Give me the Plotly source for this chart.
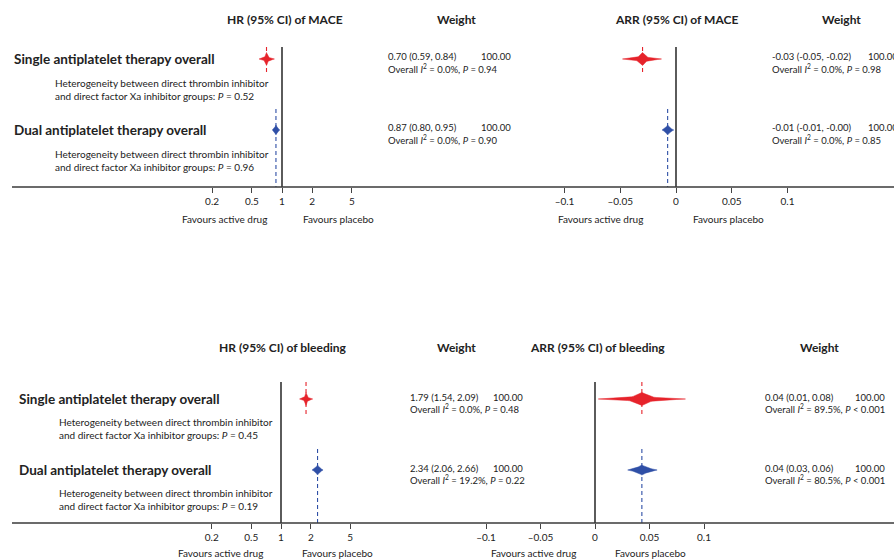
import numpy as np
import plotly.graph_objects as go

# ---------------- data ----------------
groups = ["Single antiplatelet therapy overall", "Dual antiplatelet therapy overall"]
group_colors = ["#e6232b", "#2f4fa6"]

het_p_mace = ["0.52", "0.96"]
het_p_bleed = ["0.45", "0.19"]

hr_mace_est = [0.70, 0.87]
hr_mace_lo = [0.59, 0.80]
hr_mace_hi = [0.84, 0.95]
hr_mace_txt = ["0.70 (0.59, 0.84)", "0.87 (0.80, 0.95)"]
hr_mace_i2 = ["0.0%", "0.0%"]
hr_mace_p = ["= 0.94", "= 0.90"]

arr_mace_est = [-0.030, -0.0075]
arr_mace_lo = [-0.048, -0.0125]
arr_mace_hi = [-0.013, -0.002]
arr_mace_txt = ["-0.03 (-0.05, -0.02)", "-0.01 (-0.01, -0.00)"]
arr_mace_i2 = ["0.0%", "0.0%"]
arr_mace_p = ["= 0.98", "= 0.85"]

hr_bleed_est = [1.79, 2.34]
hr_bleed_lo = [1.54, 2.06]
hr_bleed_hi = [2.09, 2.66]
hr_bleed_txt = ["1.79 (1.54, 2.09)", "2.34 (2.06, 2.66)"]
hr_bleed_i2 = ["0.0%", "19.2%"]
hr_bleed_p = ["= 0.48", "= 0.22"]

arr_bleed_est = [0.043, 0.043]
arr_bleed_lo = [0.003, 0.030]
arr_bleed_hi = [0.083, 0.057]
arr_bleed_txt = ["0.04 (0.01, 0.08)", "0.04 (0.03, 0.06)"]
arr_bleed_i2 = ["89.5%", "80.5%"]
arr_bleed_p = ["&lt; 0.001", "&lt; 0.001"]

weights = ["100.00", "100.00"]

hr_ticks = [0.2, 0.5, 1, 2, 5]
hr_ticktext = ["0.2", "0.5", "1", "2", "5"]
arr_ticks = [-0.1, -0.05, 0, 0.05, 0.1]
arr_ticktext = ["\u20130.1", "\u20130.05", "0", "0.05", "0.1"]

# ---------------- layout helpers ----------------
W, H = 894, 560
FONT = "Lato"
TXT = "#222222"


def px(x):
    return x / W


def py(y):
    return 1 - y / H


fig = go.Figure()
annotations = []
shapes = []


def ann(text, x, y, size, bold=False, xanchor="left", color=TXT):
    if bold:
        text = "<b>" + text + "</b>"
    annotations.append(dict(text=text, x=px(x), y=py(y), xref="paper", yref="paper",
                            xanchor=xanchor, yanchor="middle", showarrow=False,
                            font=dict(family=FONT, size=size, color=color), align="left"))


def diamond(xa, ya, est, lo, hi, row, h, color, k, log=False):
    # concave diamond through (lo,row),(est,row-h),(hi,row),(est,row+h)
    t = np.linspace(0, 1, 13)
    kk = 1 - (1 - k) * 4 * t * (1 - t)
    if log:
        e, l, u = np.log10(est), np.log10(lo), np.log10(hi)
    else:
        e, l, u = est, lo, hi
    xs, ys = [], []
    for (x0, y0, x1, y1) in [(l, row, e, row - h), (e, row - h, u, row),
                             (u, row, e, row + h), (e, row + h, l, row)]:
        ex = x0 + t * (x1 - x0)
        ey = y0 + t * (y1 - y0)
        xs += list(e + kk * (ex - e))
        ys += list(row + kk * (ey - row))
    if log:
        xs = list(10 ** np.array(xs))
    fig.add_trace(go.Scatter(x=xs, y=ys, xaxis=xa, yaxis=ya, mode="lines", fill="toself",
                             fillcolor=color, line=dict(color=color, width=0.5),
                             hoverinfo="skip", showlegend=False))


def dashed(xa, ya, x, y0, y1, color):
    fig.add_trace(go.Scatter(x=[x, x], y=[y0, y1], xaxis=xa, yaxis=ya, mode="lines",
                             line=dict(color=color, width=1.1, dash="4px,3px"),
                             hoverinfo="skip", showlegend=False))


# panel geometry (pixels)
TOP = dict(y_top=47, y_axis=187, rows=(59, 130))
BOT = dict(y_top=382, y_axis=523, rows=(399, 470))


def yrange(p):
    sp = p["rows"][1] - p["rows"][0]
    top = (p["y_top"] - p["rows"][0]) / sp
    bot = 1 + (p["y_axis"] - p["rows"][1]) / sp
    return [bot, top], [py(p["y_axis"]), py(p["y_top"])], sp


yr_t, yd_t, sp_t = yrange(TOP)
yr_b, yd_b, sp_b = yrange(BOT)

# ---------------- marks ----------------
panels = [
    ("x", "y", hr_mace_est, hr_mace_lo, hr_mace_hi, True, sp_t, TOP),
    ("x2", "y2", arr_mace_est, arr_mace_lo, arr_mace_hi, False, sp_t, TOP),
    ("x3", "y3", hr_bleed_est, hr_bleed_lo, hr_bleed_hi, True, sp_b, BOT),
    ("x4", "y4", arr_bleed_est, arr_bleed_lo, arr_bleed_hi, False, sp_b, BOT),
]
for xa, ya, est, lo, hi, lg, sp, p in panels:
    top = (p["y_top"] - p["rows"][0]) / sp
    bot = 1 + (p["y_axis"] - p["rows"][1]) / sp
    # reference line (null effect)
    shapes.append(dict(type="line", xref=xa, yref=ya + " domain", x0=1 if lg else 0,
                       x1=1 if lg else 0, y0=0, y1=1, line=dict(color="#333333", width=1.6)))
    for i in range(2):
        col = group_colors[i]
        if i == 0:
            dashed(xa, ya, est[i], top, 0 + 16 / sp, col)
        else:
            dashed(xa, ya, est[i], 1 - 21 / sp, bot, col)
    for i in range(2):
        h = (6.5 if i == 0 else 5.0) / sp
        diamond(xa, ya, est[i], lo[i], hi[i], i, h, group_colors[i],
                0.55 if i == 0 else 0.85, log=lg)

# full-width axis lines
for p in (TOP, BOT):
    shapes.append(dict(type="line", xref="paper", yref="paper", x0=px(12), x1=1,
                       y0=py(p["y_axis"]), y1=py(p["y_axis"]),
                       line=dict(color="#3a3a3a", width=1.6)))

# ---------------- axes ----------------
def log_axis(center_px, per_decade, d0, d1):
    return dict(type="log", domain=[px(d0), px(d1)],
                range=[(d0 - center_px) / per_decade, (d1 - center_px) / per_decade],
                tickvals=hr_ticks, ticktext=hr_ticktext)


def lin_axis(zero_px, per_unit, d0, d1):
    return dict(type="linear", domain=[px(d0), px(d1)],
                range=[(d0 - zero_px) / per_unit, (d1 - zero_px) / per_unit],
                tickvals=arr_ticks, ticktext=arr_ticktext)


common_x = dict(showgrid=False, zeroline=False, showline=False, ticks="outside",
                ticklen=5, tickwidth=1.2, tickcolor="#444444",
                tickfont=dict(family=FONT, size=10, color=TXT), fixedrange=True)
common_y = dict(showgrid=False, zeroline=False, showline=False, showticklabels=False,
                ticks="", fixedrange=True)

xa1 = log_axis(282, 100, 150, 400); xa1.update(common_x); xa1["anchor"] = "y"
xa2 = lin_axis(676, 1115, 540, 820); xa2.update(common_x); xa2["anchor"] = "y2"
xa3 = log_axis(281, 99, 150, 400); xa3.update(common_x); xa3["anchor"] = "y3"
xa4 = lin_axis(595, 1090, 460, 740); xa4.update(common_x); xa4["anchor"] = "y4"

ya1 = dict(domain=yd_t, range=yr_t, anchor="x", **common_y)
ya2 = dict(domain=yd_t, range=yr_t, anchor="x2", **common_y)
ya3 = dict(domain=yd_b, range=yr_b, anchor="x3", **common_y)
ya4 = dict(domain=yd_b, range=yr_b, anchor="x4", **common_y)

# ---------------- text ----------------
TS, RS, HS, VS = 12, 13.5, 10, 9.5

# headers
ann("HR (95% CI) of MACE", 285, 20, TS, True, "center")
ann("Weight", 456, 20, TS, True, "center")
ann("ARR (95% CI) of MACE", 676, 20, TS, True, "center")
ann("Weight", 841, 20, TS, True, "center")
ann("HR (95% CI) of bleeding", 283, 347, TS, True, "center")
ann("Weight", 456, 347, TS, True, "center")
ann("ARR (95% CI) of bleeding", 597, 347, TS, True, "center")
ann("Weight", 819, 347, TS, True, "center")


def het(p):
    return ("Heterogeneity between direct thrombin inhibitor<br>"
            "and direct factor Xa inhibitor groups: <i>P</i> = " + p)


def overall(i2, p):
    return "Overall <i>I</i><sup>2</sup> = " + i2 + ", <i>P</i> " + p


for i in range(2):
    # top panel
    r = TOP["rows"][i]
    ann(groups[i], 12, r, RS, True)
    ann(het(het_p_mace[i]), 53, r + 30, HS)
    ann(hr_mace_txt[i], 386, r - 2, VS)
    ann(weights[i], 513, r - 2, VS, xanchor="right")
    ann(overall(hr_mace_i2[i], hr_mace_p[i]), 386, r + 9, VS)
    ann(arr_mace_txt[i], 770, r - 2, VS)
    ann(weights[i], 866, r - 2, VS)
    ann(overall(arr_mace_i2[i], arr_mace_p[i]), 770, r + 9, VS)
    # bottom panel
    r = BOT["rows"][i]
    ann(groups[i], 17, r, RS, True)
    ann(het(het_p_bleed[i]), 57, r + 29, HS)
    ann(hr_bleed_txt[i], 408, r - 2, VS)
    ann(weights[i], 525, r - 2, VS, xanchor="right")
    ann(overall(hr_bleed_i2[i], hr_bleed_p[i]), 408, r + 9, VS)
    ann(arr_bleed_txt[i], 763, r - 2, VS)
    ann(weights[i], 887, r - 2, VS, xanchor="right")
    ann(overall(arr_bleed_i2[i], arr_bleed_p[i]), 763, r + 9, VS)

# favours labels
ann("Favours active drug", 224, 219, HS, xanchor="center")
ann("Favours placebo", 338, 219, HS, xanchor="center")
ann("Favours active drug", 600, 219, HS, xanchor="center")
ann("Favours placebo", 728, 219, HS, xanchor="center")
ann("Favours active drug", 220, 553, HS, xanchor="center")
ann("Favours placebo", 337, 553, HS, xanchor="center")
ann("Favours active drug", 533, 553, HS, xanchor="center")
ann("Favours placebo", 650, 553, HS, xanchor="center")

fig.update_layout(
    width=W, height=H, autosize=False,
    margin=dict(l=0, r=0, t=0, b=0),
    paper_bgcolor="white", plot_bgcolor="white",
    xaxis=xa1, xaxis2=xa2, xaxis3=xa3, xaxis4=xa4,
    yaxis=ya1, yaxis2=ya2, yaxis3=ya3, yaxis4=ya4,
    annotations=annotations, shapes=shapes,
    showlegend=False, hovermode=False,
)

fig.write_html("out.html", config={"displayModeBar": False},
               post_script="document.body.style.margin='0px';document.body.style.overflow='hidden';")
